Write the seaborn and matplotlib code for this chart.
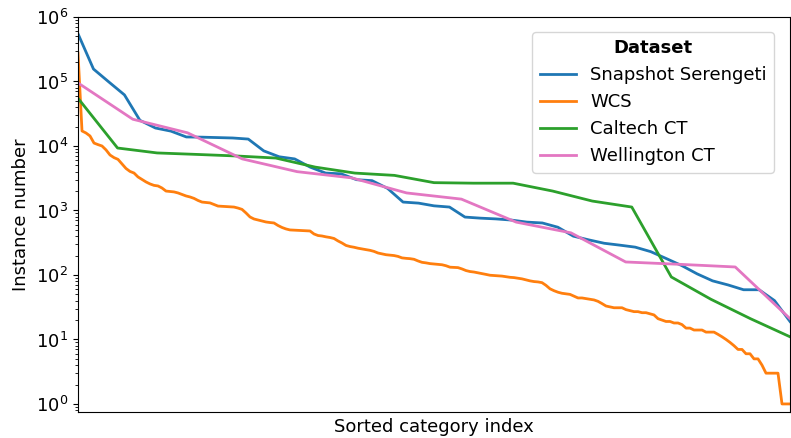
import numpy as np
import pandas as pd
import matplotlib
matplotlib.use("Agg")
import matplotlib.pyplot as plt
import seaborn as sns

# Per-category instance counts, sorted from the most to the least frequent class
datasets = ["Snapshot Serengeti", "WCS", "Caltech CT", "Wellington CT"]
colors = ["#1f77b4", "#ff7f0e", "#2ca02c", "#e377c2"]

snapshot_serengeti = [
    550000, 156000, 98000, 62000, 25000, 19000, 17000, 13800, 13700, 13500,
    13300, 12800, 8400, 6800, 6300, 4700, 3800, 3700, 3000, 2900,
    2200, 1350, 1300, 1180, 1130, 790, 760, 740, 710, 660,
    640, 550, 400, 350, 310, 290, 270, 230, 180, 140,
    104, 81, 70, 59, 59, 40, 19,
]

wcs = [
    277000, 17100, 15900, 14300, 11100, 10500, 10000, 8700, 7250, 6600,
    6200, 5260, 4480, 4030, 3810, 3310, 3030, 2770, 2580, 2450,
    2400, 2230, 2000, 1970, 1940, 1870, 1770, 1680, 1620, 1540,
    1430, 1350, 1330, 1310, 1240, 1170, 1160, 1150, 1140, 1130,
    1090, 1040, 915, 793, 738, 713, 688, 663, 650, 640,
    585, 545, 517, 499, 495, 492, 488, 485, 481, 432,
    409, 402, 390, 381, 368, 337, 313, 287, 276, 269,
    260, 253, 247, 241, 232, 219, 212, 206, 203, 200,
    194, 184, 181, 179, 175, 165, 157, 154, 150, 148,
    146, 144, 139, 132, 131, 130, 124, 117, 113, 111,
    108, 105, 102, 99, 98, 97, 96, 94, 92, 91,
    89, 87, 84, 81, 79, 78, 76, 69, 61, 57,
    54, 52, 51, 50, 47, 44, 44, 43, 42, 41,
    39, 36, 33, 32, 31, 31, 31, 29, 28, 27,
    27, 26, 26, 25, 24, 21, 20, 19, 19, 18,
    18, 17, 15, 15, 14, 14, 14, 13, 13, 13,
    12, 11, 10, 9, 8, 7, 7, 6, 6, 5,
    5, 4, 3, 3, 3, 3, 1, 1, 1,
]

caltech_ct = [
    55000, 9300, 7800, 7400, 7000, 6500, 4700, 3800, 3500, 2700,
    2650, 2650, 2000, 1400, 1130, 93, 42, 21, 11,
]

wellington_ct = [
    95000, 26000, 16000, 6300, 4000, 3200, 1870, 1500, 660, 450,
    159, 146, 133, 21,
]

series = [snapshot_serengeti, wcs, caltech_ct, wellington_ct]

# Long-form table: each dataset's category rank is normalised to [0, 1]
frames = []
for name, counts in zip(datasets, series):
    n = len(counts)
    frames.append(pd.DataFrame({
        "Dataset": name,
        "rank": np.arange(n) / (n - 1),
        "count": counts,
    }))
df = pd.concat(frames, ignore_index=True)

plt.rcParams.update({
    "font.size": 13,
    "axes.labelsize": 13,
    "xtick.labelsize": 13,
    "ytick.labelsize": 13,
    "legend.fontsize": 13,
})

fig = plt.figure(figsize=(7.91, 4.38), dpi=100)
ax = fig.add_axes([78 / 791, 26 / 438, 712 / 791, 395 / 438])

sns.lineplot(
    data=df, x="rank", y="count", hue="Dataset", hue_order=datasets,
    palette=dict(zip(datasets, colors)), estimator=None, sort=False,
    linewidth=2, ax=ax,
)

ax.set_yscale("log")
ax.set_ylim(0.75, 1e6)
ax.set_xlim(0, 1)
ax.set_xticks([])
ax.set_xlabel("Sorted category index")
ax.set_ylabel("Instance number")

handles, labels = ax.get_legend_handles_labels()
ax.legend(
    handles, labels, title="Dataset", loc="upper right",
    bbox_to_anchor=(0.9775, 0.962), borderaxespad=0,
    title_fontproperties={"weight": "bold", "size": 13},
)

fig.savefig("out.png", dpi=100)
